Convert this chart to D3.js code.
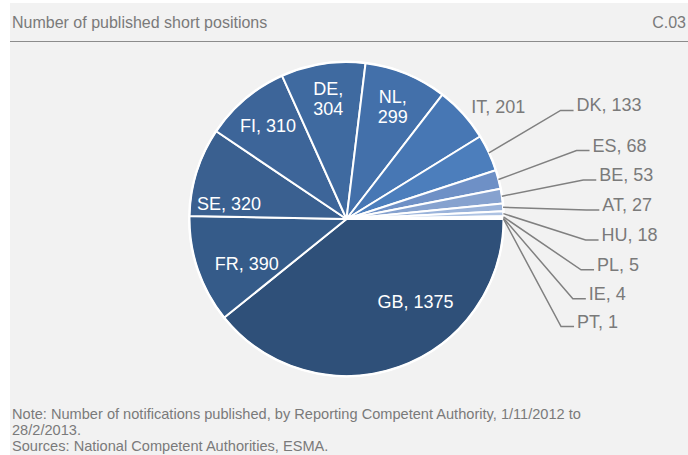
<!DOCTYPE html>
<html>
<head>
<meta charset="utf-8">
<script src="https://cdn.jsdelivr.net/npm/d3@7/dist/d3.min.js"></script>
<style>
  html, body { margin: 0; padding: 0; background: #ffffff; }
  svg { display: block; }
  text { font-family: "Liberation Sans", Arial, Helvetica, sans-serif; }
</style>
</head>
<body>
<svg id="chart" width="688" height="455"></svg>
<script>
// ---- data ----
const categories = ["GB", "FR", "SE", "FI", "DE", "NL", "IT", "DK", "ES", "BE", "AT", "HU", "PL", "IE", "PT"];
const values = [1375, 390, 320, 310, 304, 299, 201, 133, 68, 53, 27, 18, 5, 4, 1];
const titleText = "Number of published short positions";
const chartId = "C.03";
const noteLines = [
  "Note: Number of notifications published, by Reporting Competent Authority, 1/11/2012 to",
  "28/2/2013.",
  "Sources: National Competent Authorities, ESMA."
];

// ---- style ----
const sliceColors = ["#2f5079", "#355b89", "#3a6090", "#3d6599", "#3f6aa0", "#4370aa", "#4777b4",
                     "#4c7ebc", "#6e90c6", "#86a2cf", "#9ab3da", "#adc2e2", "#bccfe8", "#c9d8ec", "#d6e1f0"];
const grey = "#7a7a7a";
// manual label nudges (degrees, radius fraction) like hand-placed data labels
const labelNudge = { GB: { da: -20.5, dr: -0.09 }, FR: { da: -5, dr: -0.08 }, SE: { da: -10, dr: -0.02 } };

const W = 688, H = 455;
const svg = d3.select("#chart");

// panel
svg.append("rect").attr("x", 10).attr("y", 3).attr("width", W - 10).attr("height", H - 3).attr("fill", "#f2f2f2");
svg.append("text").attr("x", 12).attr("y", 27.5).attr("font-size", 16).attr("fill", grey).text(titleText);
svg.append("text").attr("x", 686).attr("y", 27.5).attr("font-size", 16).attr("fill", grey)
  .attr("text-anchor", "end").text(chartId);
svg.append("line").attr("x1", 10).attr("x2", W).attr("y1", 41.5).attr("y2", 41.5)
  .attr("stroke", "#8c8c8c").attr("stroke-width", 1);

noteLines.forEach((t, i) => {
  svg.append("text").attr("x", 12).attr("y", 419 + i * 16).attr("font-size", 14.6).attr("fill", grey).text(t);
});

// pie
const cx = 346.5, cy = 219, R = 157;
const data = categories.map((c, i) => ({ cat: c, value: values[i], color: sliceColors[i] }));
const pie = d3.pie().value(d => d.value).sort(null)
  .startAngle(Math.PI / 2).endAngle(Math.PI / 2 + 2 * Math.PI);
const arcs = pie(data);
const arc = d3.arc().innerRadius(0).outerRadius(R);

const g = svg.append("g").attr("transform", `translate(${cx},${cy})`);
g.selectAll("path.slice").data(arcs).join("path")
  .attr("class", "slice")
  .attr("d", arc)
  .attr("fill", d => d.data.color)
  .attr("stroke", "#ffffff")
  .attr("stroke-width", 2)
  .attr("stroke-linejoin", "round");
g.append("circle").attr("r", R + 0.5).attr("fill", "none").attr("stroke", "#ffffff").attr("stroke-width", 2);

// helpers: screen angle phi measured from 3 o'clock, clockwise
const midPhi = d => (d.startAngle + d.endAngle) / 2 - Math.PI / 2;
const deg = Math.PI / 180;
const fs = 18;
const capHalf = 6.4;

const labelG = g.append("g");
const leaderItems = [];

arcs.forEach(d => {
  const span = (d.endAngle - d.startAngle) / deg;
  const label = `${d.data.cat}, ${d.data.value}`;
  if (span >= 25) {
    // inside label
    const nud = labelNudge[d.data.cat] || { da: 0, dr: 0 };
    const phi = midPhi(d) + nud.da * deg;
    const rr = R * (0.775 + nud.dr);
    const x = Math.cos(phi) * rr, y = Math.sin(phi) * rr;
    const t = labelG.append("text").attr("x", x).attr("y", y + capHalf)
      .attr("text-anchor", "middle").attr("font-size", fs).attr("fill", "#ffffff").text(label);
    const w = t.node().getComputedTextLength();
    const chord = 2 * 115 * Math.sin(span * deg / 2);
    if (w > chord) {
      t.text(null);
      const parts = [`${d.data.cat},`, `${d.data.value}`];
      parts.forEach((p, i) => {
        t.append("tspan").attr("x", x).attr("y", y + capHalf + (i - 0.5) * 20).text(p);
      });
    }
  } else if (span >= 15) {
    // outside end label without leader
    const phi = midPhi(d);
    const rr = R + 11;
    labelG.append("text").attr("x", Math.cos(phi) * rr).attr("y", Math.sin(phi) * rr + capHalf)
      .attr("font-size", fs).attr("fill", grey).text(label);
  } else {
    leaderItems.push({ d, label });
  }
});

// leader labels: spread in angle with minimum spacing
const minGap = 7.2 * deg, lift = 2 * deg, Rl = 240;
let prev = -Infinity;
leaderItems.forEach(it => {
  const phi = midPhi(it.d);
  const mid = phi > Math.PI ? phi - 2 * Math.PI : phi;
  it.mid = mid;
  it.la = Math.max(mid - lift, prev + minGap);
  prev = it.la;
});
leaderItems.forEach(it => {
  const sx = Math.cos(it.mid) * R, sy = Math.sin(it.mid) * R;
  const ex = Math.cos(it.la) * Rl, ey = Math.sin(it.la) * Rl;
  labelG.append("polyline")
    .attr("points", `${sx},${sy} ${ex},${ey} ${ex + 13},${ey}`)
    .attr("fill", "none").attr("stroke", "#808080").attr("stroke-width", 1.5);
  labelG.append("text").attr("x", ex + 16).attr("y", ey + 1)
    .attr("font-size", fs).attr("fill", grey).text(it.label);
});
</script>
</body>
</html>
